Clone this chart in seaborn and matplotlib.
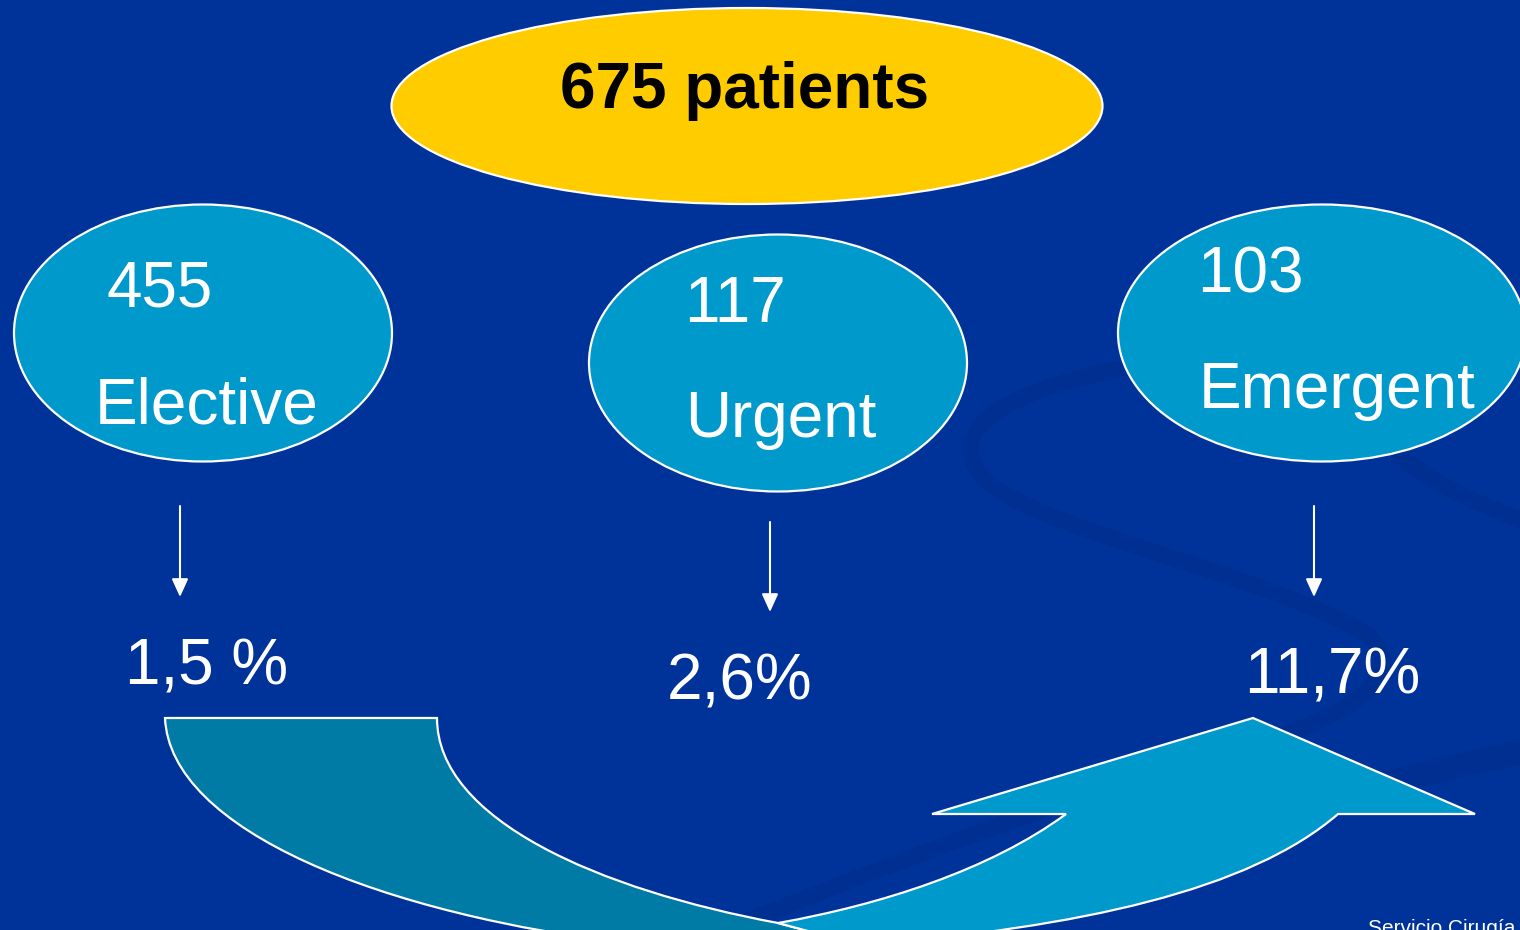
import matplotlib
matplotlib.use('Agg')
import matplotlib.pyplot as plt
from matplotlib.patches import Ellipse, PathPatch
from matplotlib.path import Path
import seaborn as sns

# data
total_patients = 675
groups = ["Elective", "Urgent", "Emergent"]
counts = [455, 117, 103]
mortality = ["1,5 %", "2,6%", "11,7%"]
footer = "Servicio Cirugía"

# layout (pixel space, y grows downwards)
W, H = 1520, 930
bg = "#003399"
bubble_col = "#0099CC"
shade_col = "#007BA6"
gold = "#FFCC00"
swirl_col = "#002A86"

bubble_xy = [(203, 333), (778, 363), (1322, 333)]
bubble_wh = [(378, 257), (378, 257), (408, 257)]
count_pos = [(107, 306), (684, 322), (1197, 292)]
name_pos = [(95, 423), (685, 437), (1199, 408)]
arrow_x = [180, 770, 1314]
arrow_y = [(506, 597), (522, 612), (506, 597)]
pct_pos = [(125, 684), (667, 699), (1244, 693)]

sns.set_theme(style="white")
plt.rcParams['font.family'] = ['Liberation Sans', 'DejaVu Sans']

fig = plt.figure(figsize=(W / 100, H / 100), dpi=100)
fig.patch.set_facecolor(bg)
ax = fig.add_axes([0, 0, 1, 1])
ax.set_facecolor(bg)
ax.set_xlim(0, W)
ax.set_ylim(H, 0)
ax.axis("off")

# faint background swoosh
M, C = Path.MOVETO, Path.CURVE4
swirls = [
    ([(1160, 362), (1040, 380), (930, 420), (985, 480),
      (1040, 530), (1250, 570), (1360, 630),
      (1420, 670), (1360, 720), (1200, 760),
      (1000, 820), (850, 880), (700, 940)], 12),
    ([(1520, 752), (1350, 790), (1150, 840), (950, 900),
      (900, 915), (850, 930), (820, 945)], 18),
    ([(1385, 440), (1420, 480), (1470, 500), (1520, 520)], 12),
]
for pts, lw in swirls:
    codes = [M] + [C] * (len(pts) - 1)
    ax.add_patch(PathPatch(Path(pts, codes), fill=False, edgecolor=swirl_col,
                           lw=lw, alpha=0.35, capstyle="round", zorder=1))

# U-turn arrow: shaded back part
back = [(165, 718),
        (170, 830), (380, 915), (640, 945),
        (860, 945),
        (778, 923),
        (600, 890), (437, 820), (437, 718),
        (165, 718)]
back_codes = [M, C, C, C, Path.LINETO, Path.LINETO, C, C, C, Path.CLOSEPOLY]
ax.add_patch(PathPatch(Path(back, back_codes), facecolor=shade_col,
                       edgecolor="white", lw=1.6, zorder=2))

# front part with arrow head
front = [(778, 923),
         (880, 905), (990, 870), (1066, 814),
         (932, 814), (1253, 718), (1475, 814), (1338, 814),
         (1250, 890), (1080, 928), (860, 945),
         (778, 923)]
front_codes = [M, C, C, C, Path.LINETO, Path.LINETO, Path.LINETO, Path.LINETO,
               C, C, C, Path.CLOSEPOLY]
ax.add_patch(PathPatch(Path(front, front_codes), facecolor=bubble_col,
                       edgecolor="white", lw=1.6, zorder=3))

# total bubble
ax.add_patch(Ellipse((747, 106), 711, 196, facecolor=gold, edgecolor="white",
                     lw=1.6, zorder=4))
ax.text(560, 108, f"{total_patients} patients", fontsize=46, fontweight="bold",
        color="black", ha="left", va="baseline", zorder=5)

# group bubbles, arrows and rates
for i, g in enumerate(groups):
    (cx, cy), (bw, bh) = bubble_xy[i], bubble_wh[i]
    ax.add_patch(Ellipse((cx, cy), bw, bh, facecolor=bubble_col,
                         edgecolor="white", lw=1.6, zorder=4))
    ax.text(*count_pos[i], str(counts[i]), fontsize=46, color="white",
            ha="left", va="baseline", zorder=5)
    ax.text(*name_pos[i], g, fontsize=46, color="white",
            ha="left", va="baseline", zorder=5)
    y0, y1 = arrow_y[i]
    ax.annotate("", xy=(arrow_x[i], y1), xytext=(arrow_x[i], y0),
                arrowprops=dict(arrowstyle="-|>,head_length=1.1,head_width=0.5",
                                color="white", lw=1.5, mutation_scale=10,
                                shrinkA=0, shrinkB=0), zorder=5)
    ax.text(*pct_pos[i], mortality[i], fontsize=46, color="white",
            ha="left", va="baseline", zorder=5)

ax.text(1368, 934, footer, fontsize=15, color="white", ha="left",
        va="baseline", zorder=5)

fig.savefig("out.png", dpi=100, facecolor=bg)
